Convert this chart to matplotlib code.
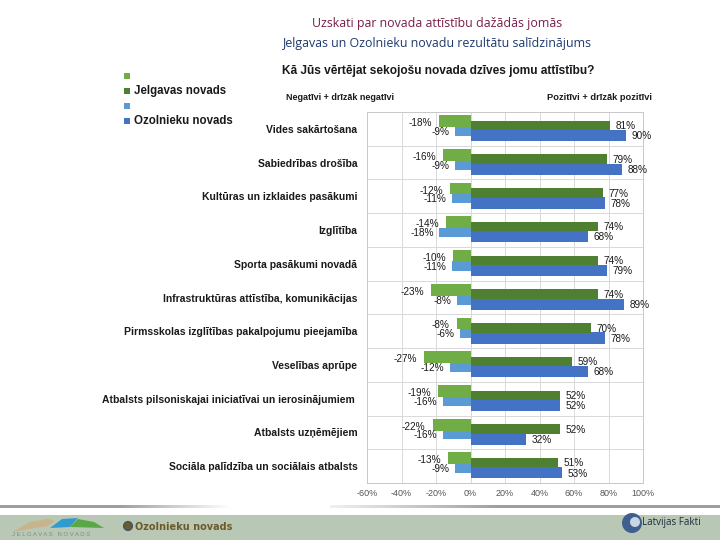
import matplotlib

matplotlib.use("Agg")
import matplotlib.pyplot as plt
import numpy as np
from matplotlib.patches import Polygon, Rectangle, Circle

W, H = 720, 540

CATEGORIES = [
    "Vides sakārtošana",
    "Sabiedrības drošība",
    "Kultūras un izklaides pasākumi",
    "Izglītība",
    "Sporta pasākumi novadā",
    "Infrastruktūras attīstība, komunikācijas",
    "Pirmsskolas izglītības pakalpojumu pieejamība",
    "Veselības aprūpe",
    "Atbalsts pilsoniskajai iniciatīvai un ierosinājumiem ",
    "Atbalsts uzņēmējiem",
    "Sociāla palīdzība un sociālais atbalsts",
]
JELGAVA_NEG = [-18, -16, -12, -14, -10, -23, -8, -27, -19, -22, -13]
JELGAVA_POS = [81, 79, 77, 74, 74, 74, 70, 59, 52, 52, 51]
OZOLN_NEG = [-9, -9, -11, -18, -11, -8, -6, -12, -16, -16, -9]
OZOLN_POS = [90, 88, 78, 68, 79, 89, 78, 68, 52, 32, 53]

X_TICKS = [-60, -40, -20, 0, 20, 40, 60, 80, 100]

C_JNEG = "#70ad47"
C_JPOS = "#4f7f30"
C_ONEG = "#5b9bd5"
C_OPOS = "#4472c4"


def fx(x):
    return x / W


def fy(y):
    return 1 - y / H


fig = plt.figure(figsize=(7.2, 5.4), dpi=100)
fig.patch.set_facecolor("white")

# titles
fig.text(fx(437), fy(24), "Uzskati par novada attīstību dažādās jomās", ha="center", va="center",
         fontsize=8.9, color="#7a1e48", family="Open Sans")
fig.text(fx(437), fy(43), "Jelgavas un Ozolnieku novadu rezultātu salīdzinājums", ha="center", va="center",
         fontsize=8.9, color="#1f3a6e", family="Open Sans")
fig.text(fx(282), fy(71), "Kā Jūs vērtējat sekojošu novada dzīves jomu attīstību?", ha="left", va="center",
         fontsize=8.6, fontweight="bold", color="#1a1a1a", family="Liberation Sans")
fig.text(fx(286), fy(97), "Negatīvi + drīzāk negatīvi", ha="left", va="center",
         fontsize=6.5, fontweight="bold", color="#1a1a1a", family="Liberation Sans")
fig.text(fx(652), fy(97), "Pozitīvi + drīzāk pozitīvi", ha="right", va="center",
         fontsize=6.7, fontweight="bold", color="#1a1a1a", family="Liberation Sans")

# legend
legend_items = [(C_JNEG, ""), (C_JPOS, "Jelgavas novads"), (C_ONEG, ""), (C_OPOS, "Ozolnieku novads")]
for i, (col, lab) in enumerate(legend_items):
    y = 76 + i * 15
    fig.patches.append(Rectangle((fx(124), fy(y + 3)), 6 / W, 6 / H, transform=fig.transFigure,
                                 facecolor=col, edgecolor="none"))
    if lab:
        fig.text(fx(134), fy(y), lab, ha="left", va="center", fontsize=8.3, fontweight="bold",
                 color="#1a1a1a", family="Liberation Sans")

# main chart
ax = fig.add_axes([fx(367), fy(483), (643 - 367) / W, (483 - 112) / H])
n = len(CATEGORIES)
y = np.arange(n)
ax.barh(y - 0.23, JELGAVA_NEG, height=0.35, color=C_JNEG, zorder=3)
ax.barh(y - 0.10, JELGAVA_POS, height=0.28, color=C_JPOS, zorder=3)
ax.barh(y + 0.07, OZOLN_NEG, height=0.28, color=C_ONEG, zorder=2)
ax.barh(y + 0.20, OZOLN_POS, height=0.33, color=C_OPOS, zorder=2)

lab_kw = dict(textcoords="offset points", va="center", fontsize=7.2, color="#1a1a1a", family="Liberation Sans")
for i in range(n):
    ax.annotate(f"{JELGAVA_NEG[i]}%", (JELGAVA_NEG[i], i - 0.17), xytext=(-5, 0), ha="right", **lab_kw)
    ax.annotate(f"{OZOLN_NEG[i]}%", (OZOLN_NEG[i], i + 0.09), xytext=(-4, 0), ha="right", **lab_kw)
    ax.annotate(f"{JELGAVA_POS[i]}%", (JELGAVA_POS[i], i - 0.08), xytext=(4, 0), ha="left", **lab_kw)
    ax.annotate(f"{OZOLN_POS[i]}%", (OZOLN_POS[i], i + 0.22), xytext=(4, 0), ha="left", **lab_kw)

ax.set_xlim(-60, 100)
ax.set_ylim(n - 0.5, -0.5)
ax.set_xticks(X_TICKS)
ax.set_xticklabels([f"{t}%" for t in X_TICKS], fontsize=6.5, color="#555555", family="Liberation Sans")
ax.set_yticks(y)
ax.set_yticklabels(CATEGORIES, fontsize=7.5, fontweight="bold", color="#1a1a1a", family="Liberation Sans")
ax.set_yticks(np.arange(n - 1) + 0.5, minor=True)
ax.tick_params(axis="both", which="both", length=0, pad=4)
ax.tick_params(axis="y", which="major", pad=7)
ax.grid(axis="x", which="major", color="#d9d9d9", lw=0.7, zorder=0)
ax.grid(axis="y", which="minor", color="#d9d9d9", lw=0.7, zorder=0)
ax.axvline(0, color="#bfbfbf", lw=0.7, zorder=1)
for sp in ax.spines.values():
    sp.set_color("#c8c8c8")
    sp.set_linewidth(0.7)

# footer
fax = fig.add_axes([0, 0, 1, 40 / H])
fax.set_xlim(0, W)
fax.set_ylim(540, 500)
fax.axis("off")
grad = np.ones((1, 720, 4))
xs = np.arange(720)
alpha = np.clip(np.where(xs < 330, 1 - (xs - 120) / 110, (xs - 300) / 200), 0, 1)
grad[0, :, :3] = 0.62
grad[0, :, 3] = alpha
fax.imshow(grad, extent=(0, 720, 508, 505), aspect="auto", zorder=1)
fax.add_patch(Rectangle((0, 515), 720, 25, facecolor="#b9c8b4", edgecolor="none", zorder=1))
fax.add_patch(Polygon([(12, 532), (30, 522), (48, 519), (55, 521), (48, 526)], facecolor="#c8b48a",
                      edgecolor="none", zorder=2))
fax.add_patch(Polygon([(50, 528), (62, 519), (78, 518), (70, 527)], facecolor="#2f9bd0",
                      edgecolor="none", zorder=2))
fax.add_patch(Polygon([(70, 527), (78, 519), (94, 522), (104, 528)], facecolor="#58a845",
                      edgecolor="none", zorder=2))
fax.text(12, 535, "J E L G A V A S   N O V A D S", fontsize=4.3, color="#7f8c86", va="center", ha="left",
         family="Liberation Sans", zorder=3)
fax.add_patch(Circle((128, 526), 4.5, facecolor="#6b5a2a", edgecolor="#3b4f7a", lw=0.8, zorder=2))
fax.text(135, 527, "Ozolnieku novads", fontsize=7, fontweight="bold", color="#6e5a28", va="center", ha="left",
         family="Liberation Sans Narrow", zorder=3)
fax.add_patch(Circle((632, 523), 10, facecolor="#3f5f8f", edgecolor="none", zorder=2))
fax.add_patch(Circle((635, 522), 5, facecolor="#c9d6e6", edgecolor="none", zorder=2))
fax.text(642, 522, "Latvijas Fakti", fontsize=7, color="#1e2b40", va="center", ha="left",
         family="Open Sans", zorder=3)

fig.savefig("out.png", dpi=100)
